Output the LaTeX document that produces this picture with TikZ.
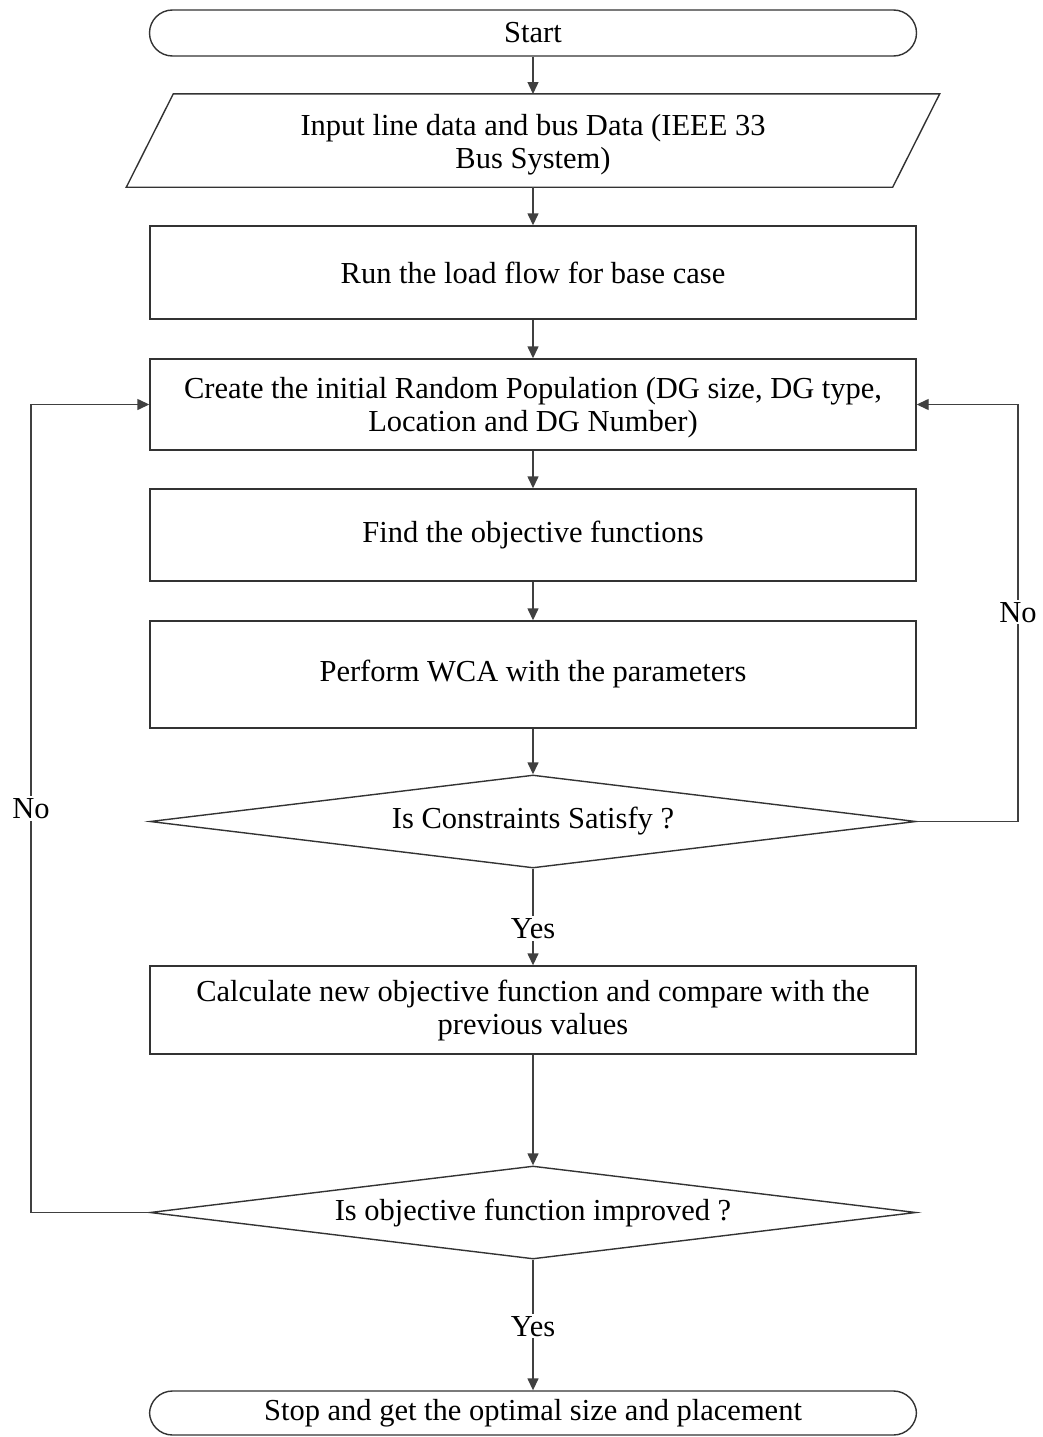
\documentclass[tikz,border=0pt]{standalone}
\usepackage{fontspec}
\setmainfont{Liberation Serif}
\usetikzlibrary{shapes.geometric,arrows.meta,calc}
\begin{document}
\begin{tikzpicture}[x=1pt,y=-1pt,
  every node/.style={font=\fontsize{30.5}{33}\selectfont},
  outline/.style={draw=black!80,line width=1.4pt},
  procbox/.style={outline,rectangle,minimum width=766,align=center,inner sep=0},
  termbox/.style={outline,rectangle,rounded corners=23,minimum width=767,minimum height=46,inner sep=0},
  decbox/.style={outline,diamond,aspect=8.2,minimum width=766,minimum height=93,inner sep=0},
  flow/.style={draw=black!75,line width=1.4pt,-{Triangle[length=12pt,width=11pt]}},
  lbl/.style={fill=white,inner sep=2pt}]
\useasboundingbox (0,0) rectangle (1043,1437);

% terminals, process boxes and decisions
\node[termbox] (start) at (533,33) {Start};
\node[inner sep=0,minimum width=766,minimum height=93,align=center] (input) at (533,145)
  {Input line data and bus Data (IEEE 33\\Bus System)};
\draw[outline,line join=miter]
  ([xshift=23.5,yshift=4.5]input.north west) -- ([xshift=23.5,yshift=4.5]input.north east)
  -- ([xshift=-23.5,yshift=4.5]input.south east) -- ([xshift=-23.5,yshift=4.5]input.south west) -- cycle;
\node[procbox,minimum height=93] (load) at (533,272.5) {Run the load flow for base case};
\node[procbox,minimum height=91,text depth=0pt] (pop) at (533,404.5)
  {Create the initial Random Population (DG size, DG type,\\Location and DG Number)};
\node[procbox,minimum height=92] (obj) at (533,535) {Find the objective functions};
\node[procbox,minimum height=107] (wca) at (533,674.5) {Perform WCA with the parameters};
\node[decbox] (cons) at (533,821.5) {Is Constraints Satisfy ?};
\node[procbox,minimum height=88] (calc) at (533,1010)
  {Calculate new objective function and compare with the\\previous values};
\node[decbox] (impr) at (533,1212.5) {Is objective function improved ?};
\node[termbox,minimum height=44] (stop) at (533,1413) {Stop and get the optimal size and placement};

% loop corners
\coordinate (rc) at (1018,821.5);
\coordinate (lc) at (31,1212.5);

% main flow
\draw[flow] (start) -- (input.north |- 0,94);
\draw[flow] (input.south |- 0,187) -- (load);
\draw[flow] (load) -- (pop);
\draw[flow] (pop) -- (obj);
\draw[flow] (obj) -- (wca);
\draw[flow] (wca) -- (cons.north);
\draw[flow] (cons.south) -- node[lbl,pos=0.62] (yes1) {Yes} (calc);
\draw[flow] (calc) -- (impr.north);
\draw[flow] (impr.south) -- node[lbl,pos=0.51] (yes2) {Yes} (stop.north);

% feedback loops
\draw[flow] (cons.east) -- (rc) -- node[lbl,pos=0.502] (no1) {No} (rc |- pop.east) -- (pop.east);
\draw[flow] (impr.west) -- (lc) -- node[lbl,pos=0.5] (no2) {No} (lc |- pop.west) -- (pop.west);
\end{tikzpicture}
\end{document}
